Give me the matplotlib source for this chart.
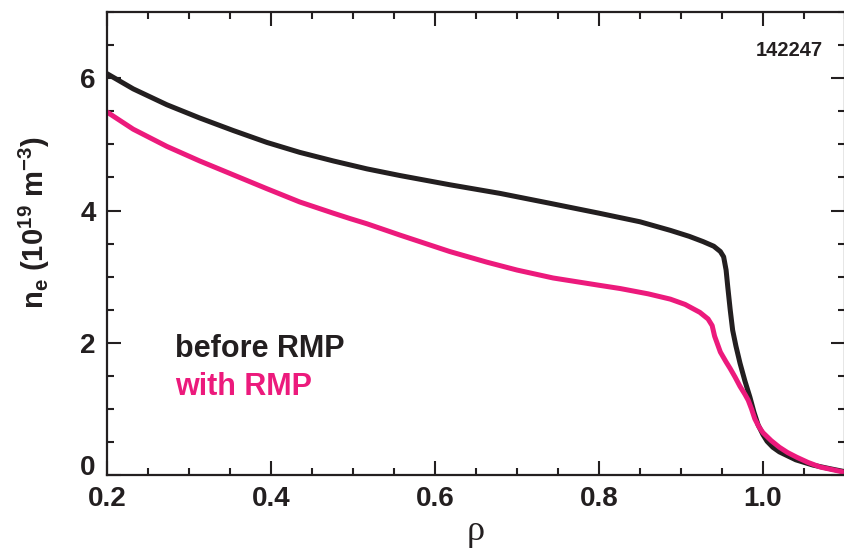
import matplotlib
matplotlib.use('Agg')
import matplotlib.pyplot as plt
from matplotlib.ticker import MultipleLocator

# electron density profiles, shot 142247
rho_before = [0.20, 0.232, 0.273, 0.313, 0.354, 0.395, 0.435, 0.476, 0.517, 0.557,
              0.618, 0.679, 0.740, 0.80, 0.85, 0.887, 0.91, 0.927, 0.940, 0.948,
              0.952, 0.955, 0.957, 0.960, 0.963, 0.967, 0.972, 0.978, 0.984, 0.989,
              0.994, 1.000, 1.005, 1.012, 1.02, 1.03, 1.04, 1.061, 1.08, 1.10]
ne_before = [6.07, 5.84, 5.60, 5.40, 5.21, 5.03, 4.88, 4.75, 4.63, 4.53,
             4.39, 4.26, 4.11, 3.96, 3.83, 3.70, 3.61, 3.53, 3.46, 3.38,
             3.30, 3.10, 2.85, 2.50, 2.19, 1.95, 1.69, 1.42, 1.18, 0.95,
             0.76, 0.61, 0.51, 0.42, 0.35, 0.29, 0.23, 0.15, 0.10, 0.05]

rho_rmp = [0.20, 0.232, 0.273, 0.313, 0.354, 0.395, 0.435, 0.476, 0.496, 0.517,
           0.557, 0.618, 0.663, 0.70, 0.744, 0.80, 0.826, 0.86, 0.887, 0.905,
           0.923, 0.933, 0.938, 0.941, 0.948, 0.955, 0.96, 0.966, 0.972, 0.978,
           0.982, 0.986, 0.99, 0.995, 1.0, 1.01, 1.02, 1.03, 1.041, 1.055,
           1.07, 1.085, 1.10]
ne_rmp = [5.49, 5.23, 4.97, 4.75, 4.54, 4.33, 4.13, 3.96, 3.88, 3.80,
          3.63, 3.38, 3.22, 3.10, 2.98, 2.87, 2.82, 2.74, 2.66, 2.58,
          2.46, 2.36, 2.26, 2.10, 1.86, 1.71, 1.61, 1.48, 1.34, 1.22,
          1.13, 1.00, 0.85, 0.73, 0.64, 0.52, 0.42, 0.34, 0.27, 0.19,
          0.12, 0.08, 0.04]

black = '#231F20'
pink = '#EC1A7C'
bold_sans = ['Liberation Sans Narrow', 'Liberation Sans', 'DejaVu Sans']

fig = plt.figure(figsize=(8.45, 5.53), dpi=100)
ax = fig.add_axes([0.1266, 0.141, 0.8734, 0.837])

ax.plot(rho_before, ne_before, color=black, lw=3.6, solid_joinstyle='round')
ax.plot(rho_rmp, ne_rmp, color=pink, lw=3.6, solid_joinstyle='round')

ax.set_xlim(0.2, 1.1)
ax.set_ylim(0, 7)
ax.xaxis.set_minor_locator(MultipleLocator(0.05))
ax.yaxis.set_minor_locator(MultipleLocator(0.5))
ax.set_xticks([0.2, 0.4, 0.6, 0.8, 1.0])
ax.set_xticklabels(['0.2', '0.4', '0.6', '0.8', '1.0'])
ax.set_yticks([0, 2, 4, 6])
ax.set_yticklabels(['0', '2', '4', '6'])

ax.tick_params(which='both', direction='in', top=True, right=True, width=1.5, colors=black)
ax.tick_params(which='major', length=10, pad=8)
ax.tick_params(which='minor', length=5)
for lab in ax.get_xticklabels() + ax.get_yticklabels():
    lab.set_family(bold_sans)
    lab.set_fontweight('bold')
    lab.set_fontsize(20)
ax.get_yticklabels()[0].set_va('baseline')
for sp in ax.spines.values():
    sp.set_linewidth(1.6)
    sp.set_color(black)

ax.set_ylabel(r'n$_\mathregular{e}$ (10$^\mathregular{19}$ m$^\mathregular{-3}$)',
              family=bold_sans, fontweight='bold', fontsize=21, color=black)
ax.yaxis.set_label_coords(-0.075, 0.546)
ax.set_xlabel('ρ', family=['Liberation Serif', 'DejaVu Serif'], fontsize=26, color=black,
              labelpad=2)

ax.text(0.283, 1.91, 'before RMP', family=bold_sans, fontweight='bold', fontsize=22,
        color=black, va='center')
ax.text(0.283, 1.33, 'with RMP', family=bold_sans, fontweight='bold', fontsize=22,
        color=pink, va='center')
ax.text(1.073, 6.42, '142247', family=bold_sans, fontweight='bold', fontsize=14.5,
        color=black, ha='right', va='center')

fig.savefig('out.png', dpi=100)
